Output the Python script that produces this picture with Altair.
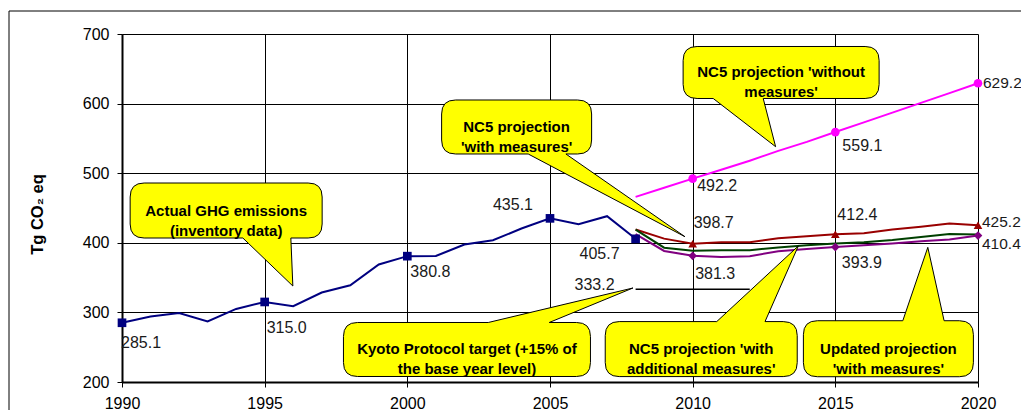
import altair as alt
import pandas as pd

FONT = "Liberation Sans"

# ---------------- data ----------------
actual_years = list(range(1990, 2009))
actual_values = [285.1, 294, 299, 287, 305, 315.0, 308.8, 328.5, 339, 368.8,
                 380.8, 381, 397.6, 403.7, 420.5, 435.1, 426.7, 438.2, 405.7]

proj_years = list(range(2008, 2021))
without_measures = [466, 479, 492.2, 505, 518, 532, 545, 559.1, 573, 587, 601, 615, 629.2]
with_measures = [419, 406, 398.7, 400.8, 400.8, 406.6, 409.5, 412.4, 413.8, 419, 422.9, 427.7, 425.2]
additional_measures = [419, 393, 388.5, 389.4, 389.4, 393.2, 396.5, 399, 400.8, 404, 408.5, 412.8, 412]
updated_measures = [412.4, 388.3, 381.3, 379.7, 380.7, 387.9, 391.2, 393.9, 396.5, 399, 402.3, 404.8, 410.4]

kyoto_years = [2008, 2009, 2010, 2011, 2012]
kyoto_values = [333.2, 333.2, 333.2, 333.2, 333.2]

series_names = ["actual", "without", "with", "additional", "updated", "kyoto"]
series_colors = ["#000080", "#FF00FF", "#990000", "#004000", "#800080", "#000000"]

marker_years = {
    "actual": [1990, 1995, 2000, 2005, 2008],
    "without": [2010, 2015, 2020],
    "with": [2010, 2015, 2020],
    "updated": [2010, 2015, 2020],
}
marker_shapes = {"actual": "square", "without": "circle", "with": "triangle-up", "updated": "diamond"}

rows = []
for yr, v in zip(actual_years, actual_values):
    rows.append(("actual", yr, v))
for name, vals in [("without", without_measures), ("with", with_measures),
                   ("additional", additional_measures), ("updated", updated_measures)]:
    for yr, v in zip(proj_years, vals):
        rows.append((name, yr, v))
for yr, v in zip(kyoto_years, kyoto_values):
    rows.append(("kyoto", yr, v))
df = pd.DataFrame(rows, columns=["series", "year", "value"])

# labelled points: (series, year) and label style (dx, dy, align, font size)
label_points = [
    ("actual", 1990, -1, 20, "left", 16),
    ("actual", 1995, 2, 26, "left", 16),
    ("actual", 2000, 3, 16, "left", 16),
    ("actual", 2005, -17, -13, "right", 16),
    ("actual", 2008, -16, 15, "right", 16),
    ("kyoto", 2008, -21, -4, "right", 16),
    ("with", 2010, 1, -21, "left", 16),
    ("updated", 2010, 2.5, 18, "left", 16),
    ("without", 2010, 4.5, 7.5, "left", 16),
    ("without", 2015, 7, 14, "left", 16),
    ("with", 2015, 2, -19, "left", 16),
    ("updated", 2015, 6.5, 15.5, "left", 16),
    ("without", 2020, 5, 0, "left", 15.5),
    ("with", 2020, 4, -3.5, "left", 15.5),
    ("updated", 2020, 4, 8.5, "left", 15.5),
]

# callouts: centre (year, value), box w/h px, pointer side, base x offsets, tip offset, text
callouts = [
    (1993.65, 446.4, 192, 55, "bottom", 16.7, 64.7, 66.7, 75.5, "Actual GHG emissions\n(inventory data)"),
    (2003.83, 566.4, 150, 54, "bottom", 11.6, 49.3, 168.3, 109.7, "NC5 projection\n'with measures'"),
    (2013.10, 644.7, 196, 52, "bottom", -67.9, -17.9, -5.5, 74.2, "NC5 projection 'without\nmeasures'"),
    (2002.09, 246.7, 247, 54, "top", 21.3, 82.3, 166.0, -61.5, "Kyoto Protocol target (+15% of\nthe base year level)"),
    (2010.30, 247.3, 192, 55, "top", 15.5, 63.8, 97.1, -103.1, "NC5 projection 'with\nadditional measures'"),
    (2016.86, 247.8, 170, 56, "top", 14.4, 55.7, 39.4, -101.4, "Updated projection\n'with measures'"),
]

# ---------------- encodings ----------------
xaxis = alt.Axis(values=list(range(1990, 2021, 5)), format="d", title=None,
                 grid=True, gridColor="#000", gridWidth=1, gridOpacity=1,
                 domainColor="#000", domainWidth=2, tickColor="#000", tickSize=5,
                 labelFont=FONT, labelFontSize=16, labelColor="#000", labelPadding=8,
                 labelFlush=False, labelOverlap=False)
yaxis = alt.Axis(values=[200, 300, 400, 500, 600, 700], title="Tg CO₂ eq",
                 titleFont=FONT, titleFontSize=16.5, titleFontWeight="bold", titleColor="#000",
                 titleAngle=270, titleX=-80, titleY=180, titleAlign="center",
                 titleBaseline="alphabetic",
                 grid=True, gridColor="#000", gridWidth=1, gridOpacity=1,
                 domainColor="#000", domainWidth=2, tickColor="#000", tickSize=5,
                 labelFont=FONT, labelFontSize=16, labelColor="#000", labelPadding=8,
                 labelFlush=False, labelOverlap=False)
xs = alt.Scale(domain=[1990, 2020], nice=False, zero=False)
ys = alt.Scale(domain=[200, 700], nice=False, zero=False)


def X():
    return alt.X("year:Q", scale=xs, axis=xaxis)


def Y():
    return alt.Y("value:Q", scale=ys, axis=yaxis)


color = alt.Color("series:N", scale=alt.Scale(domain=series_names, range=series_colors), legend=None)

# outer frame (decoration)
frame = alt.Chart(pd.DataFrame({"a": [0]})).mark_rect(
    fillOpacity=0, stroke="#000", strokeWidth=1
).encode(x=alt.value(-113), x2=alt.value(1400), y=alt.value(-23), y2=alt.value(800))

lines = alt.Chart(df[df.series != "kyoto"]).mark_line(strokeWidth=2).encode(
    x=X(), y=Y(), color=color, detail="series:N")
kyoto = alt.Chart(df[df.series == "kyoto"]).mark_line(strokeWidth=1.5, color="#000").encode(
    x=X(), y=Y())

layers = [frame, lines, kyoto]

for name, yrs in marker_years.items():
    sub = df[(df.series == name) & (df.year.isin(yrs))]
    layers.append(alt.Chart(sub).mark_point(
        shape=marker_shapes[name], filled=True, opacity=1, size=75,
        color=series_colors[series_names.index(name)]).encode(x=X(), y=Y()))


def fmt(v):
    return f"{v:.1f}"


def callout_path(w, h, r, side, b1, b2, tx, ty):
    L, R, T, B = -w / 2, w / 2, -h / 2, h / 2
    f = fmt
    if side == "bottom":
        return (f"M{f(L+r)},{f(T)} L{f(R-r)},{f(T)} Q{f(R)},{f(T)} {f(R)},{f(T+r)} "
                f"L{f(R)},{f(B-r)} Q{f(R)},{f(B)} {f(R-r)},{f(B)} L{f(b2)},{f(B)} "
                f"L{f(tx)},{f(ty)} L{f(b1)},{f(B)} L{f(L+r)},{f(B)} Q{f(L)},{f(B)} {f(L)},{f(B-r)} "
                f"L{f(L)},{f(T+r)} Q{f(L)},{f(T)} {f(L+r)},{f(T)} Z")
    return (f"M{f(L+r)},{f(T)} L{f(b1)},{f(T)} L{f(tx)},{f(ty)} L{f(b2)},{f(T)} "
            f"L{f(R-r)},{f(T)} Q{f(R)},{f(T)} {f(R)},{f(T+r)} L{f(R)},{f(B-r)} "
            f"Q{f(R)},{f(B)} {f(R-r)},{f(B)} L{f(L+r)},{f(B)} Q{f(L)},{f(B)} {f(L)},{f(B-r)} "
            f"L{f(L)},{f(T+r)} Q{f(L)},{f(T)} {f(L+r)},{f(T)} Z")


for (cy, cv, w, h, side, b1, b2, tx, ty, txt) in callouts:
    d = pd.DataFrame({"year": [cy], "value": [cv], "label": [txt]})
    layers.append(alt.Chart(d).mark_point(
        shape=callout_path(w, h, 14, side, b1, b2, tx, ty), size=4, filled=True,
        fill="#FFFF00", stroke="#000", strokeWidth=1, opacity=1).encode(x=X(), y=Y()))

for (name, yr, dx, dy, align, fs) in label_points:
    sub = df[(df.series == name) & (df.year == yr)].copy()
    sub["label"] = sub["value"].map(lambda v: f"{v:.1f}")
    layers.append(alt.Chart(sub).mark_text(
        font=FONT, fontSize=fs, color="#1a1a1a", align=align, baseline="middle",
        dx=dx, dy=dy).encode(x=X(), y=Y(), text="label:N"))

for (cy, cv, w, h, side, b1, b2, tx, ty, txt) in callouts:
    d = pd.DataFrame({"year": [cy], "value": [cv], "label": [txt]})
    layers.append(alt.Chart(d).mark_text(
        font=FONT, fontSize=15, fontWeight="bold", color="#000", lineBreak="\n",
        lineHeight=20, align="center", baseline="middle").encode(x=X(), y=Y(), text="label:N"))

chart = alt.layer(*layers).properties(
    width=856, height=348,
    padding={"left": 114, "top": 26, "right": 43, "bottom": 28},
    autosize=alt.AutoSizeParams(type="none"),
    background="#FFFFFF",
).configure_view(stroke=None)

chart.save("out.html", embed_options={"renderer": "svg", "actions": False})
